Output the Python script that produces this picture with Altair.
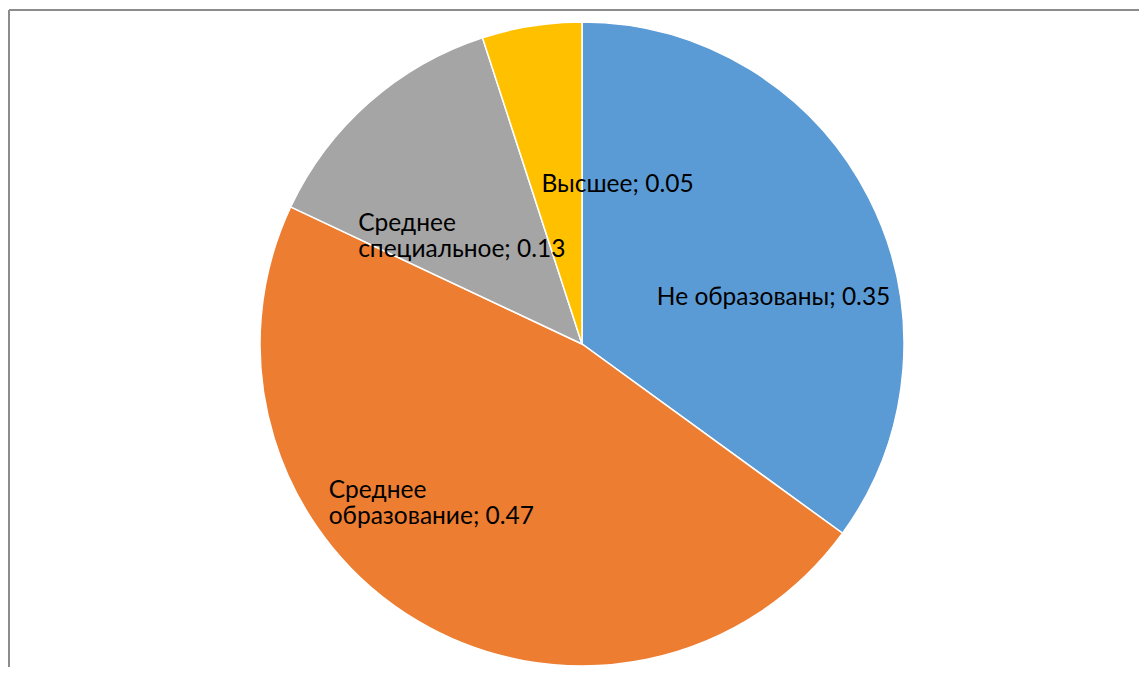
import math
import altair as alt
import pandas as pd

categories = ["Не образованы", "Среднее образование", "Среднее специальное", "Высшее"]
values = [0.35, 0.47, 0.13, 0.05]
colors = ["#5B9BD5", "#ED7D31", "#A5A5A5", "#FFC000"]
wrapped = [False, True, True, False]

labels = []
for c, v, w in zip(categories, values, wrapped):
    name = c.replace(" ", "\n", 1) if w else c
    labels.append(f"{name}; {v}")

df = pd.DataFrame({
    "idx": list(range(len(categories))),
    "category": categories,
    "value": values,
    "label": labels,
})
total = float(sum(values))

W, H = 1114, 644
R = 322
FONT = "Lato"

base = alt.Chart(df)

pie = base.mark_arc(outerRadius=R, stroke="white", strokeWidth=1.5).encode(
    theta=alt.Theta("value:Q", stack=True, scale=alt.Scale(domain=[0, total])),
    color=alt.Color("category:N", scale=alt.Scale(domain=categories, range=colors), legend=None),
    order=alt.Order("idx:Q"),
)

# label placement (radius, theta offset in radians, alignment) per category
label_style = {
    "Не образованы": (197, 0.236, "center"),
    "Среднее образование": (293, 0.510, "left"),
    "Среднее специальное": (254, -0.356, "left"),
    "Высшее": (163, 0.377, "center"),
}

text_layers = []
for cat in categories:
    r, off, al = label_style[cat]
    t = (
        base.transform_window(cum="sum(value)", sort=[alt.SortField("idx")])
        .transform_calculate(mid="datum.cum - datum.value / 2")
        .transform_filter(alt.datum.category == cat)
        .mark_text(radius=r, thetaOffset=off, align=al, baseline="middle",
                   font=FONT, fontSize=24.5, color="black", lineBreak="\n", lineHeight=26)
        .encode(
            theta=alt.Theta("mid:Q", stack=None, scale=alt.Scale(domain=[0, total])),
            text="label:N",
        )
    )
    text_layers.append(t)

one = pd.DataFrame({"a": [0]})
frame_left = alt.Chart(one).mark_rule(color="#8C8C8C", strokeWidth=2).encode(
    x=alt.value(-16), y=alt.value(-12), y2=alt.value(H + 40)
)
frame_top = alt.Chart(one).mark_rule(color="#8C8C8C", strokeWidth=2).encode(
    x=alt.value(-16), x2=alt.value(W + 40), y=alt.value(-12)
)

chart = alt.layer(frame_left, frame_top, pie, *text_layers).properties(
    width=W,
    height=H,
    background="white",
    autosize=alt.AutoSizeParams(type="none"),
    padding={"left": 17, "top": 14, "right": 0, "bottom": 1},
).configure_view(stroke=None, strokeWidth=0)

chart.save("out.html", embed_options={"renderer": "svg", "actions": False})
